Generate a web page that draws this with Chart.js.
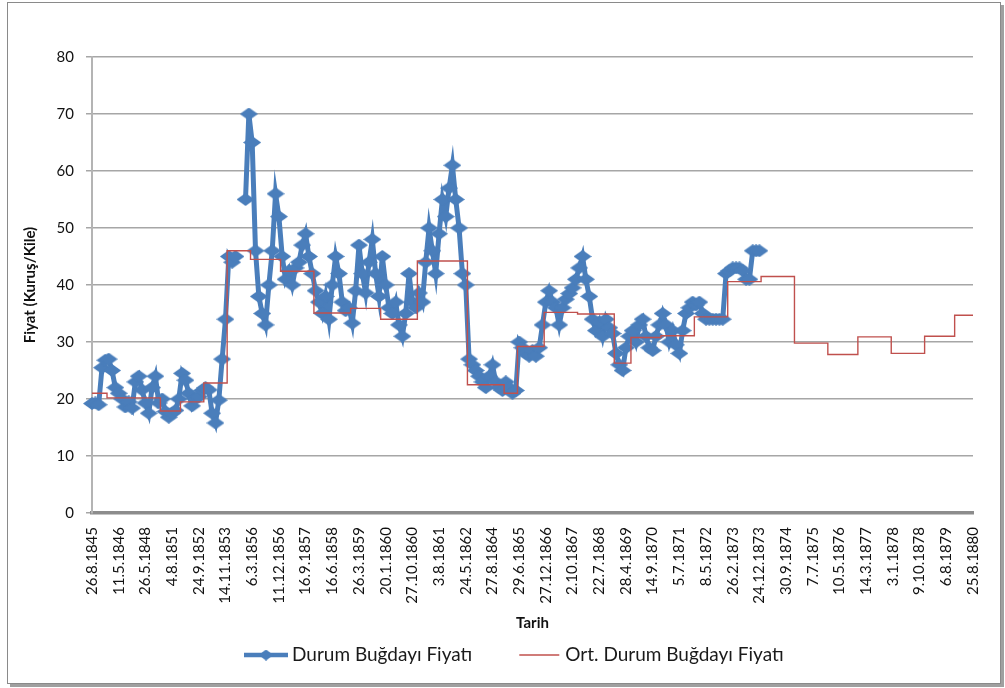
<!DOCTYPE html>
<html>
<head>
<meta charset="utf-8">
<script src="https://cdn.jsdelivr.net/npm/chart.js@4.4.1/dist/chart.umd.min.js"></script>
<style>
  body { margin: 0; background: #fff; }
  #frame { position: absolute; left: 7px; top: 2px; width: 992px; height: 680px; border: 1px solid #8a8a8a; box-shadow: 3px 3px 0 #a0a0a0; background: #fff; }
  canvas { position: absolute; left: 0; top: 0; }
</style>
</head>
<body>
<div id="frame"></div>
<canvas id="wheatChart" width="1005" height="688"></canvas>
<script>
// x axis labels, one shown every labelStep categories
const dateLabels = [
  '26.8.1845', '11.5.1846', '26.5.1848', '4.8.1851', '24.9.1852', '14.11.1853', '6.3.1856',
  '11.12.1856', '16.9.1857', '16.6.1858', '26.3.1859', '20.1.1860', '27.10.1860', '3.8.1861',
  '24.5.1862', '27.8.1864', '29.6.1865', '27.12.1866', '2.10.1867', '22.7.1868', '28.4.1869',
  '14.9.1870', '5.7.1871', '8.5.1872', '26.2.1873', '24.12.1873', '30.9.1874', '7.7.1875',
  '10.5.1876', '14.3.1877', '3.1.1878', '9.10.1878', '6.8.1879', '25.8.1880'
];
const labelStep = 8;

// durum wheat price (kurus / kile), one row per label interval
const wheatPrice = [
  19.2, 19.3, 19.0, 25.5, 26.8, 27, 25, 22,
  21, 20, 18.6, 19.5, 18.4, 23, 24, 21.6,
  19.3, 17.5, 22, 24, 19.3, 20, 17.8, 16.8,
  17.5, 18, 20, 24.5, 23.3, 21, 18.8, 20,
  20.4, 21.5, 22, 21.6, 17.5, 15.8, 19.8, 27,
  34, 45, 44, 45, null, null, 55, 70,
  65, 46, 38, 35, 33, 40, 46, 56,
  52, 45, 41, 42.5, 40, 43, 44, 47,
  49, 45, 42, 39, 37, 35, 38, 34,
  40, 45, 42, 37, 35.5, 36, 33.3, 39,
  47, 42, 38.6, 44, 48, 42, 38, 45,
  40, 36, 35, 37, 33, 31, 35, 42,
  37, 36, 38.6, 37, 44, 50, 46, 42,
  49, 55, 52, 57, 61, 55, 50, 42,
  40, 27, 26, 25, 24, 23, 22, 24,
  26, 23, 22, 21.5, 23, 22, 21, 21.5,
  30, 29, 28, 27.5, 28.5, 27.5, 29, 33,
  37, 39, 37, 36, 33, 36, 37.5, 38.5,
  39.5, 41, 43, 45, 41, 38, 34, 32,
  33.5, 31, 34, 32.5, 31.5, 28, 26, 25,
  29, 31, 32, 30, 33, 34, 31, 29,
  28.5, 31, 33, 35, 33, 30, 32, 29.5,
  28, 32, 35, 36, 37, 36.5, 37, 35,
  34, 34, 34, 34, 34, 34, 42, 42.5,
  43, 43, 43, 42.5, 41, 41, 46, 46,
  46
];

// average price: each level and how many categories it covers
const avgLevels = [21.0, 20.2, 17.9, 19.5, 22.8, 46.0, 44.5, 42.4, 35.1, 35.9, 34.0, 44.2, 22.5, 21.0,
  29.2, 35.2, 34.9, 26.3, 30.8, 31.1, 34.4, 40.6, 41.5, 29.8, 27.8, 30.9, 28.0, 31.0, 34.7];
const avgSpans = [5, 16, 6, 7, 7, 7, 9, 10, 11, 9, 11, 15, 11, 4,
  8, 10, 11, 5, 9, 10, 10, 10, 10, 10, 9, 10, 10, 9, 6];

const categories = [];
for (let i = 0; i <= (dateLabels.length - 1) * labelStep; i++) {
  categories.push(i % labelStep === 0 ? dateLabels[i / labelStep] : '');
}
const avgPrice = [];
avgLevels.forEach((v, k) => {
  for (let n = 0; n < avgSpans[k]; n++) avgPrice.push(v);
});

const FONT = 'Lato, "Liberation Sans", sans-serif';
const BLUE = '#4a7ebb';
const RED = '#c0504d';

// wide diamond marker (the excel one looks stretched sideways)
const marker = document.createElement('canvas');
marker.width = 18;
marker.height = 13;
const mctx = marker.getContext('2d');
mctx.fillStyle = BLUE;
mctx.beginPath();
mctx.moveTo(9, 0); mctx.lineTo(18, 6.5); mctx.lineTo(9, 13); mctx.lineTo(0, 6.5);
mctx.closePath();
mctx.fill();

// legend drawn like the Excel one: line + marker, then text
const excelLegend = {
  id: 'excelLegend',
  afterDraw(chart) {
    const c = chart.ctx;
    const y = 655;
    c.save();
    c.font = '19px ' + FONT;
    c.textBaseline = 'middle';
    let x = 244;
    c.strokeStyle = BLUE;
    c.lineWidth = 4.5;
    c.beginPath(); c.moveTo(x, y); c.lineTo(x + 44, y); c.stroke();
    c.drawImage(marker, x + 22 - 7.5, y - 5.5, 15, 11);
    c.fillStyle = '#1a1a1a';
    const t1 = chart.data.datasets[0].label;
    c.fillText(t1, x + 48, y);
    x = x + 48 + c.measureText(t1).width + 47;
    c.strokeStyle = RED;
    c.lineWidth = 1.4;
    c.beginPath(); c.moveTo(x, y); c.lineTo(x + 40, y); c.stroke();
    c.fillText(chart.data.datasets[1].label, x + 46, y);
    c.restore();
  }
};

new Chart(document.getElementById('wheatChart'), {
  type: 'line',
  data: {
    labels: categories,
    datasets: [
      {
        label: 'Durum Buğdayı Fiyatı',
        data: wheatPrice,
        borderColor: BLUE,
        backgroundColor: BLUE,
        borderWidth: 5,
        pointStyle: marker,
        pointRadius: 8,
        spanGaps: false,
        order: 1
      },
      {
        label: 'Ort. Durum Buğdayı Fiyatı',
        data: avgPrice,
        borderColor: RED,
        borderWidth: 1.4,
        pointRadius: 0,
        stepped: 'middle',
        order: 0
      }
    ]
  },
  options: {
    responsive: false,
    animation: false,
    devicePixelRatio: 1,
    layout: { padding: { left: 16, right: 17, top: 57, bottom: 53 } },
    plugins: { legend: { display: false }, tooltip: { enabled: false } },
    scales: {
      x: {
        grid: { display: false, drawTicks: false },
        border: { display: true, color: '#8c8c8c', width: 3.5 },
        ticks: {
          autoSkip: false, maxRotation: 90, minRotation: 90, padding: 14,
          color: '#111', font: { family: FONT, size: 15 }
        },
        title: {
          display: true, text: 'Tarih', color: '#111',
          font: { family: FONT, size: 15, weight: 'bold' }, padding: { top: 0, bottom: 3 }
        },
        afterFit: s => { s.height = 122; }
      },
      y: {
        min: 0,
        max: 80,
        ticks: { stepSize: 10, padding: 12, color: '#111', font: { family: FONT, size: 15 } },
        grid: { color: '#a6a6a6', lineWidth: 1.5, tickLength: 6 },
        border: { color: '#b4b4b4', width: 2 },
        title: {
          display: true, text: 'Fiyat (Kuruş/Kile)', color: '#111',
          font: { family: FONT, size: 15, weight: 'bold' }, padding: { top: 5, bottom: 0 }
        },
        afterFit: s => { s.width = 76; }
      }
    }
  },
  plugins: [excelLegend]
});
</script>
</body>
</html>
